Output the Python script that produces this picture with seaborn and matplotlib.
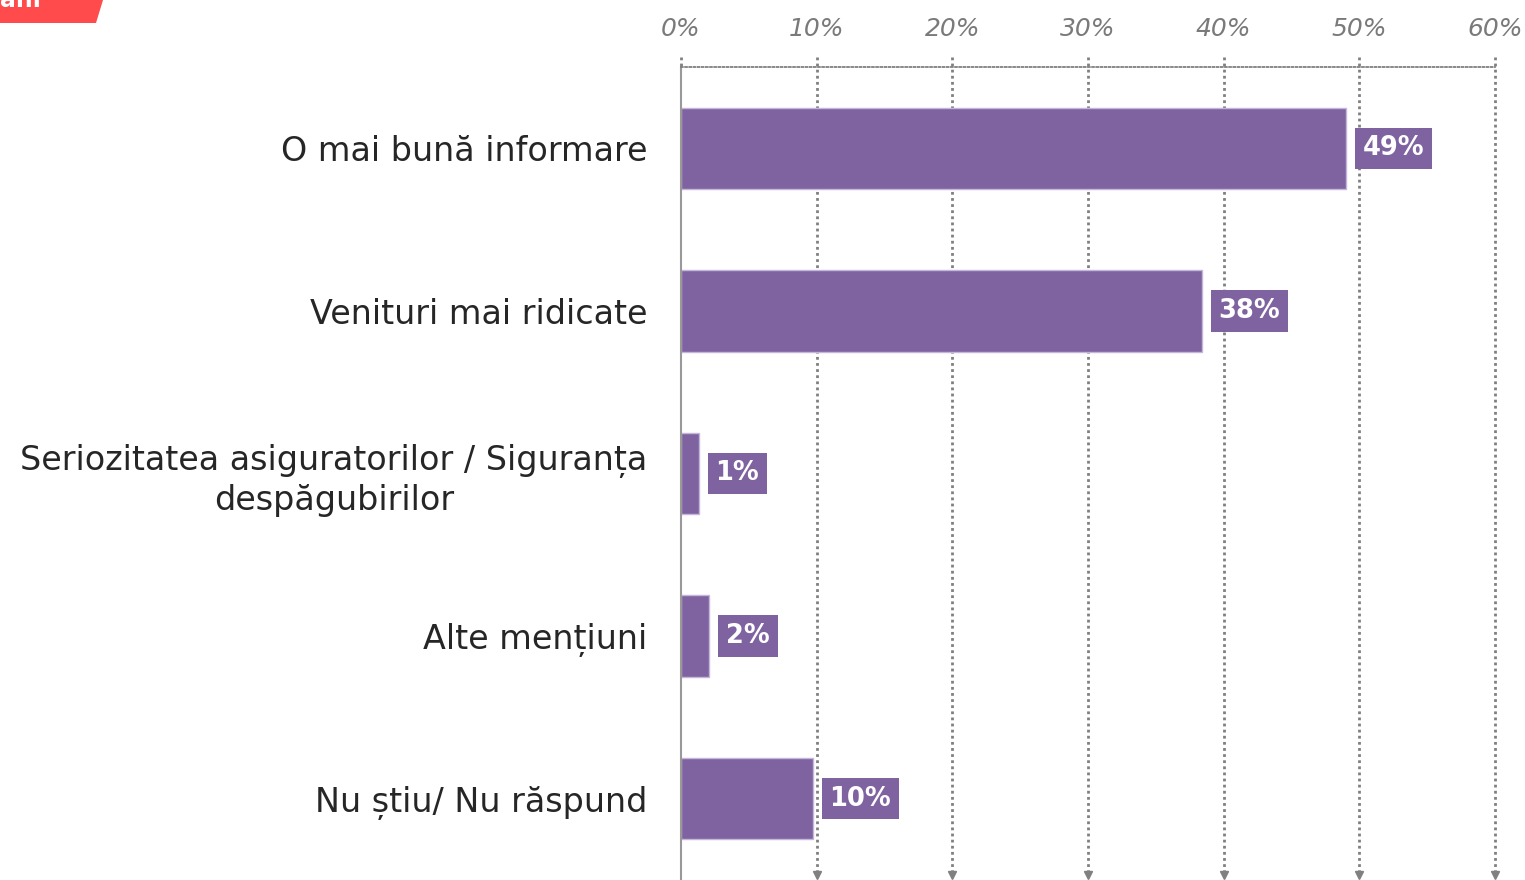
import pandas as pd
import matplotlib.pyplot as plt
from matplotlib.patches import Polygon
import seaborn as sns

# Date
categorii = [
    'O mai bună informare',
    'Venituri mai ridicate',
    'Seriozitatea asiguratorilor / Siguranța\ndespăgubirilor',
    'Alte mențiuni',
    'Nu știu/ Nu răspund',
]
procente = [49.0, 38.4, 1.3, 2.1, 9.7]
etichete = ['49%', '38%', '1%', '2%', '10%']
ticks_x = [0, 10, 20, 30, 40, 50, 60]

df = pd.DataFrame({'categorie': categorii, 'procent': procente})

sns.set_style('white')
plt.rcParams['font.family'] = ['DejaVu Sans']

mov = '#7F63A1'
gri = '#808080'

fig = plt.figure(figsize=(15.25, 8.8), dpi=100)
ax = fig.add_axes([681 / 1525, 0, (1495 - 681) / 1525, 1 - 67 / 880])

sns.barplot(data=df, x='procent', y='categorie', orient='h', color=mov,
            saturation=1, width=0.5, edgecolor='#c4b6d8', linewidth=1, ax=ax)

ax.set_xlim(0, 60)
ax.set_ylim(4.5, -0.5)
ax.set_xlabel('')
ax.set_ylabel('')

# axa x sus
ax.xaxis.tick_top()
ax.set_xticks(ticks_x)
ax.set_xticklabels([f'{t}%' for t in ticks_x], fontsize=18, style='italic', color='#7a7a7a')
ax.tick_params(axis='x', length=0, pad=19)

# axa y
ax.tick_params(axis='y', which='major', length=0, pad=24, labelsize=24, labelcolor='#262626')
for lbl in ax.get_yticklabels():
    lbl.set_multialignment('center')
    lbl.set_linespacing(1.25)
ax.set_yticks([-0.5, 0.5, 1.5, 2.5, 3.5, 4.5], minor=True)
ax.tick_params(axis='y', which='minor', length=9.5, width=1.5, color='#999999')

for s in ['right', 'bottom']:
    ax.spines[s].set_visible(False)
ax.spines['left'].set_color('#999999')
ax.spines['left'].set_linewidth(1.5)
ax.spines['top'].set_color(gri)
ax.spines['top'].set_linewidth(1.3)
ax.spines['top'].set_linestyle((0, (1, 1.3)))

# grila punctata cu sageti
for t in ticks_x:
    if t == 0:
        ax.plot([t, t], [-0.56, -0.5], color=gri, lw=2, ls=(0, (1, 1.2)), clip_on=False)
        continue
    ax.plot([t, t], [-0.56, 4.47], color=gri, lw=2, ls=(0, (1, 1.2)), clip_on=False, zorder=0)
    ax.plot([t], [4.47], marker='v', color=gri, markersize=6, clip_on=False)

# etichete valori
for i, (v, e) in enumerate(zip(procente, etichete)):
    ax.annotate(e, xy=(v, i), xytext=(12, 0), textcoords='offset points',
                ha='left', va='center', fontsize=18.5, fontweight='bold', color='white',
                bbox=dict(boxstyle='square,pad=0.3', fc=mov, ec='none'))

# forma rosie din colt
fig.patches.append(Polygon([[0, 1], [103 / 1525, 1], [96 / 1525, 1 - 23 / 880], [0, 1 - 23 / 880]],
                           closed=True, transform=fig.transFigure, fc='#FF4B4B', ec='none'))
fig.text(0.0, 1.0, 'ani', ha='left', va='center', color='white', fontsize=17, fontweight='bold')

fig.savefig('out.png', dpi=100)
